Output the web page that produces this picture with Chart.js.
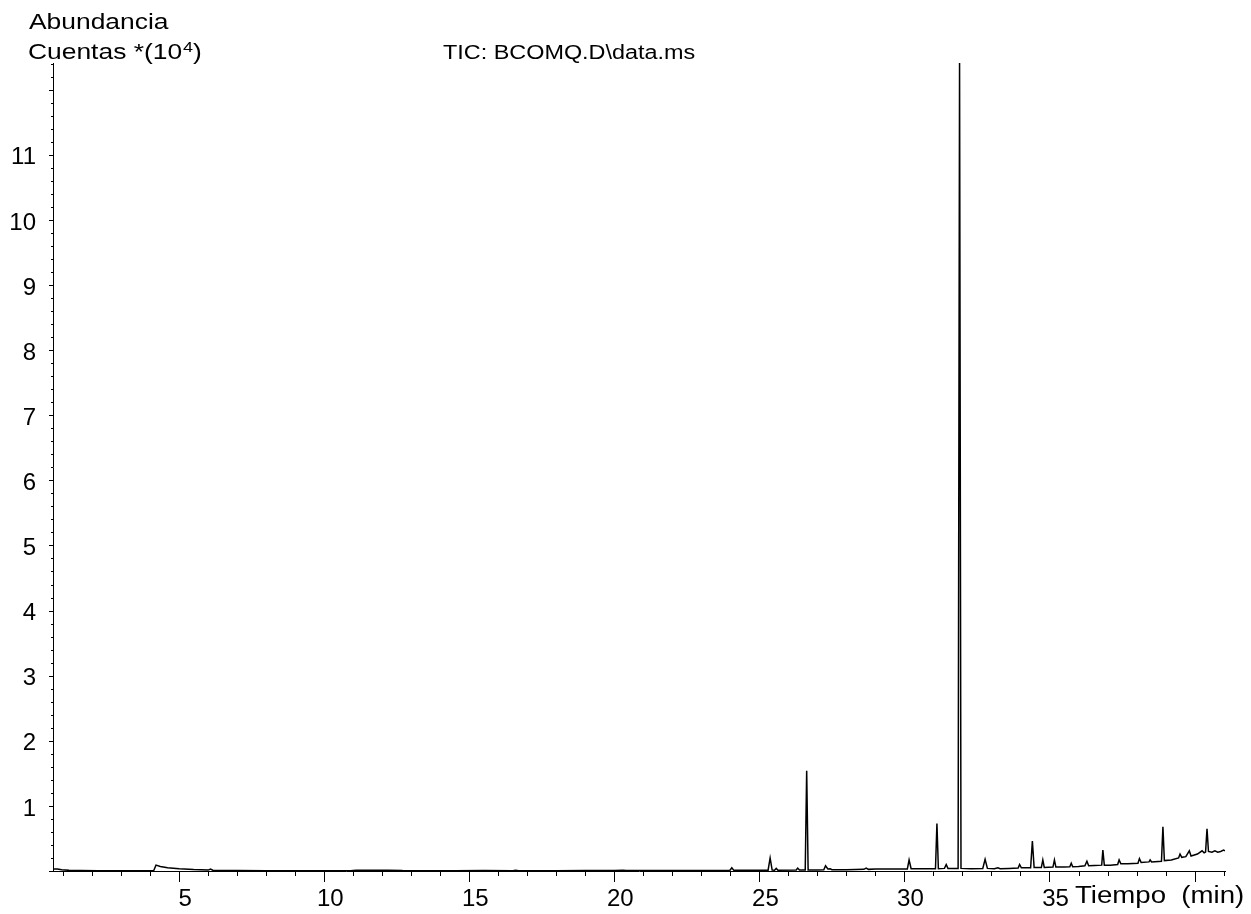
<!DOCTYPE html>
<html><head><meta charset="utf-8">
<script src="https://cdn.jsdelivr.net/npm/chart.js@4"></script>
<style>html,body{margin:0;padding:0;background:#fff}#wrap{width:1251px;height:914px;position:relative}</style>
</head><body><div id="wrap"><canvas id="c"></canvas></div>
<script>
// Retention time (min)
const timeMin = [
 0.65,0.8,0.95,1.2,1.6,2.2,3.0,3.8,4.12,4.2,4.35,4.6,5.0,5.5,6.0,6.08,6.16,7.0,8.0,9.0,10.0,10.9,11.1,11.6,12.2,12.7,13.5,14.5,15.5,16.5,16.6,16.7,18.0,19.0,20.0,20.3,20.4,21.5,22.5,
 23.98,24.05,24.12,24.6,25.3,25.37,25.44,25.52,25.58,25.64,26.27,26.32,26.38,26.58,26.63,26.68,27.0,27.22,27.28,27.36,27.44,27.5,28.0,28.6,28.68,28.76,29.0,29.5,30.0,
 30.1,30.16,30.23,30.6,31.07,31.12,31.17,31.38,31.44,31.5,31.85,31.9,31.95,32.3,32.7,32.78,32.86,33.1,33.22,33.3,33.6,33.92,33.97,34.03,34.35,34.41,34.47,34.72,34.77,34.82,
 35.12,35.17,35.22,35.5,35.7,35.75,35.8,36.0,36.22,36.29,36.35,36.55,36.8,36.84,36.89,37.1,37.35,37.4,37.46,37.7,38.05,38.1,38.16,38.43,38.47,38.52,38.86,38.91,38.96,
 39.2,39.45,39.5,39.56,39.7,39.82,39.88,40.1,40.26,40.33,40.38,40.43,40.48,40.6,40.7,40.8,40.9,41.0,41.05
];
// Abundance (counts x 10^4)
const abundance = [
 0.03,0.03,0.02,0.01,0.006,0.005,0.004,0.004,0.005,0.09,0.07,0.05,0.035,0.022,0.014,0.03,0.012,0.006,0.005,0.004,0.004,0.005,0.012,0.01,0.012,0.006,0.005,0.005,0.006,0.005,0.012,0.005,0.005,0.006,0.007,0.012,0.007,0.007,0.008,
 0.008,0.05,0.01,0.01,0.012,0.2,0.015,0.012,0.04,0.012,0.015,0.045,0.015,0.015,1.54,0.015,0.015,0.02,0.08,0.03,0.035,0.02,0.02,0.025,0.045,0.025,0.03,0.03,0.03,
 0.03,0.17,0.035,0.035,0.035,0.73,0.035,0.04,0.1,0.04,0.04,12.41,0.04,0.035,0.04,0.18,0.04,0.035,0.05,0.035,0.04,0.045,0.1,0.05,0.05,0.46,0.055,0.055,0.17,0.055,
 0.06,0.17,0.06,0.06,0.065,0.12,0.065,0.07,0.08,0.15,0.08,0.085,0.09,0.32,0.09,0.09,0.1,0.17,0.11,0.11,0.12,0.19,0.13,0.14,0.17,0.14,0.15,0.68,0.16,
 0.17,0.2,0.26,0.21,0.22,0.31,0.23,0.26,0.31,0.28,0.29,0.65,0.3,0.29,0.31,0.29,0.3,0.32,0.31
];
const xLabelTicks = [5,10,15,20,25,30,35];
const yLabelTicks = [1,2,3,4,5,6,7,8,9,10,11];
const titleText = 'TIC: BCOMQ.D\\data.ms';
const yTitleLine1 = 'Abundancia';
const yTitleLine2 = 'Cuentas *(10';
const yTitleSup = '4';
const yTitleEnd = ')';
const xTitle = 'Tiempo  (min)';

const X_MIN = 0.65, X_MAX = 41.05, Y_MIN = 0, Y_MAX = 12.41;
const FONT = '"Liberation Sans", Arial, sans-serif';

const decorPlugin = {
  id: 'decor',
  afterDraw(chart) {
    const ctx = chart.ctx, xs = chart.scales.x, ys = chart.scales.y;
    const area = chart.chartArea;
    ctx.save();
    ctx.strokeStyle = '#000'; ctx.lineWidth = 1;
    ctx.beginPath();
    for (let k = 0; k * 0.2 <= Y_MAX + 1e-9; k++) {
      const v = k * 0.2;
      const y = Math.round(ys.getPixelForValue(v)) + 0.5;
      const len = (k % 5 === 0) ? 4 : 2;
      ctx.moveTo(area.left - len, y); ctx.lineTo(area.left, y);
    }
    for (let t = 1; t <= Math.floor(X_MAX); t++) {
      const x = Math.round(xs.getPixelForValue(t)) + 0.5;
      const len = (t % 5 === 0) ? 11 : 5;
      ctx.moveTo(x, area.bottom); ctx.lineTo(x, area.bottom + len);
    }
    ctx.stroke();

    ctx.fillStyle = '#000';
    ctx.textBaseline = 'alphabetic';
    ctx.textAlign = 'left';
    const sx = 1.2;
    function txt(s, x, y, size) {
      ctx.save();
      ctx.font = size + 'px ' + FONT;
      ctx.translate(x, y); ctx.scale(sx, 1);
      ctx.fillText(s, 0, 0);
      const w = ctx.measureText(s).width * sx;
      ctx.restore();
      return w;
    }
    txt(yTitleLine1, 29, 29, 22);
    let cx = 28;
    cx += txt(yTitleLine2, cx, 59, 22);
    cx += txt(yTitleSup, cx + 1, 52, 15) + 1;
    txt(yTitleEnd, cx, 59, 22);
    txt(titleText, 443, 59, 19.5);
    txt(xTitle, 1075, 903, 23);
    ctx.restore();
  }
};

new Chart(document.getElementById('c'), {
  type: 'line',
  data: {
    datasets: [{
      data: timeMin.map((t, i) => ({x: t, y: abundance[i]})),
      borderColor: '#000',
      borderWidth: 1.5,
      pointRadius: 0,
      tension: 0,
      fill: false
    }]
  },
  options: {
    responsive: true,
    maintainAspectRatio: false,
    animation: false,
    layout: {padding: {top: 63, right: 26, left: 0, bottom: 0}},
    plugins: {legend: {display: false}, tooltip: {enabled: false}, title: {display: false}},
    scales: {
      x: {
        type: 'linear', min: X_MIN, max: X_MAX,
        grid: {display: false, drawTicks: false},
        border: {display: true, color: '#000', width: 1},
        afterBuildTicks: (s) => { s.ticks = xLabelTicks.map(v => ({value: v})); },
        afterFit: (s) => { s.height = 43; },
        ticks: {color: '#000', font: {family: FONT, size: 24}, padding: 14, labelOffset: 6, maxRotation: 0, autoSkip: false}
      },
      y: {
        type: 'linear', min: Y_MIN, max: Y_MAX,
        grid: {display: false, drawTicks: false},
        border: {display: true, color: '#000', width: 1},
        afterBuildTicks: (s) => { s.ticks = yLabelTicks.map(v => ({value: v})); },
        afterFit: (s) => { s.width = 53; },
        ticks: {color: '#000', font: {family: FONT, size: 24}, padding: 17, labelOffset: 3, autoSkip: false}
      }
    }
  },
  plugins: [decorPlugin]
});
</script>
</body></html>
